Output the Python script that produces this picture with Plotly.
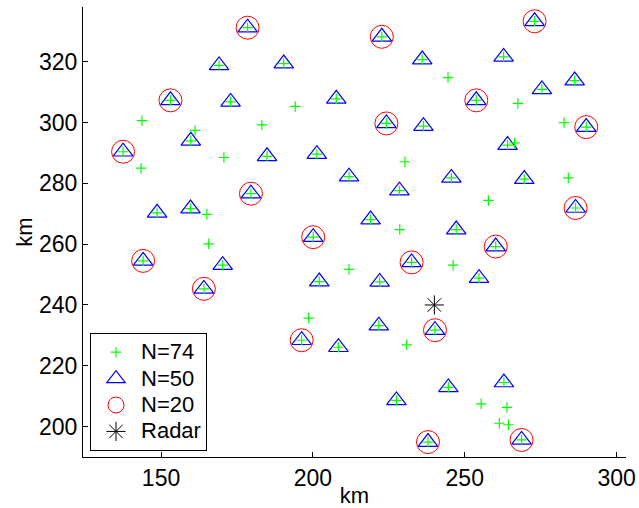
import plotly.graph_objects as go

# N=20 points (also in N=50 and N=74); the last one sits behind the legend
x20 = [178.5, 222.7, 273.0, 153.1, 253.8, 224.2, 290.0, 137.5, 179.6, 286.5,
       200.1, 260.2, 144.1, 232.5, 164.1, 240.2, 196.3, 237.9, 268.7, 145.0]
y20 = [331.2, 328.2, 333.3, 307.3, 307.3, 299.7, 298.5, 290.4, 276.6, 271.9,
       262.3, 259.2, 254.5, 254.0, 245.3, 231.7, 228.4, 194.9, 195.6, 212.0]

# additional points of the N=50 set
x50_extra = [169.1, 190.4, 236.0, 262.8, 286.2, 275.4, 172.9, 207.7, 236.4, 159.8,
             264.1, 184.9, 201.3, 211.9, 245.6, 269.6, 228.5, 148.7, 159.7, 219.0,
             247.2, 170.3, 202.1, 222.0, 254.7, 221.7, 208.4, 244.6, 262.9, 227.5]
y50_extra = [318.8, 319.4, 320.7, 321.6, 313.8, 310.9, 306.8, 307.8, 298.8, 294.0,
             292.6, 288.9, 289.6, 282.2, 281.8, 281.4, 277.6, 270.3, 271.7, 268.1,
             264.8, 253.1, 247.7, 247.6, 248.8, 233.2, 226.1, 212.9, 214.5, 208.6]

# additional points of the N=74 set
x74_extra = [143.7, 161.2, 143.4, 170.7, 183.2, 194.2, 244.5, 267.5, 282.7, 266.4,
             230.3, 284.1, 257.8, 165.1, 165.7, 228.6, 211.9, 246.2, 198.6, 230.9,
             255.4, 263.9, 261.4, 264.4]
y74_extra = [300.6, 297.4, 285.0, 288.5, 299.2, 305.3, 314.8, 306.3, 300.0, 293.3,
             287.1, 281.8, 274.4, 269.8, 260.1, 264.8, 251.7, 253.1, 235.7, 226.9,
             207.5, 206.3, 201.1, 200.6]

radar_x = [240.0]
radar_y = [240.0]

x_ticks = [150, 200, 250, 300]
y_ticks = [200, 220, 240, 260, 280, 300, 320]

x50 = x20 + x50_extra
y50 = y20 + y50_extra
x74 = x50 + x74_extra
y74 = y50 + y74_extra

FONT = "Liberation Sans, Arial, Helvetica, sans-serif"


def lg(name):
    return '<span style="font-size:22px">' + name + '</span>'


fig = go.Figure()
fig.add_trace(go.Scatter(
    x=x20, y=y20, mode="markers", name=lg("N=20"), legendrank=3,
    marker=dict(symbol="circle-open", size=23, color="#FF0000",
                line=dict(width=1, color="#FF0000"))))
fig.add_trace(go.Scatter(
    x=x50, y=y50, mode="markers", name=lg("N=50"), legendrank=2,
    marker=dict(symbol="triangle-up-open", size=17, color="#0000FF",
                line=dict(width=1.2, color="#0000FF"))))
fig.add_trace(go.Scatter(
    x=x74, y=y74, mode="markers", name=lg("N=74"), legendrank=1,
    marker=dict(symbol="cross-thin-open", size=7.5, color="#00FF00",
                line=dict(width=1.2, color="#00FF00"))))
fig.add_trace(go.Scatter(
    x=radar_x, y=radar_y, mode="markers", name=lg("Radar"), legendrank=4,
    marker=dict(symbol="asterisk-open", size=16, color="#000000",
                line=dict(width=1, color="#000000"))))

axis_common = dict(
    showgrid=False, zeroline=False, showline=True, linecolor="black", linewidth=1,
    mirror=False, ticks="inside", ticklen=5, tickcolor="black", tickwidth=1,
    tickfont=dict(family=FONT, size=23, color="black"), automargin=False,
)

fig.update_layout(
    width=639, height=508,
    margin=dict(l=83, r=13, t=7, b=51),
    paper_bgcolor="white", plot_bgcolor="white",
    font=dict(family=FONT, size=22, color="black"),
    xaxis=dict(range=[124.3, 303.1], tickvals=x_ticks,
               title=dict(text="km", font=dict(family=FONT, size=22), standoff=4),
               **axis_common),
    yaxis=dict(range=[190.0, 338.0], tickvals=y_ticks,
               title=dict(text="km", font=dict(family=FONT, size=22), standoff=0),
               **axis_common),
    legend=dict(x=0.0129, y=0.0133, xanchor="left", yanchor="bottom",
                bgcolor="white", bordercolor="black", borderwidth=1,
                font=dict(family=FONT, size=18, color="black"),
                itemwidth=40, tracegroupgap=0),
    showlegend=True,
)

fig.write_html(
    "out.html",
    config={"displayModeBar": False},
    post_script="document.body.style.margin='0px';document.body.style.overflow='hidden';",
)
